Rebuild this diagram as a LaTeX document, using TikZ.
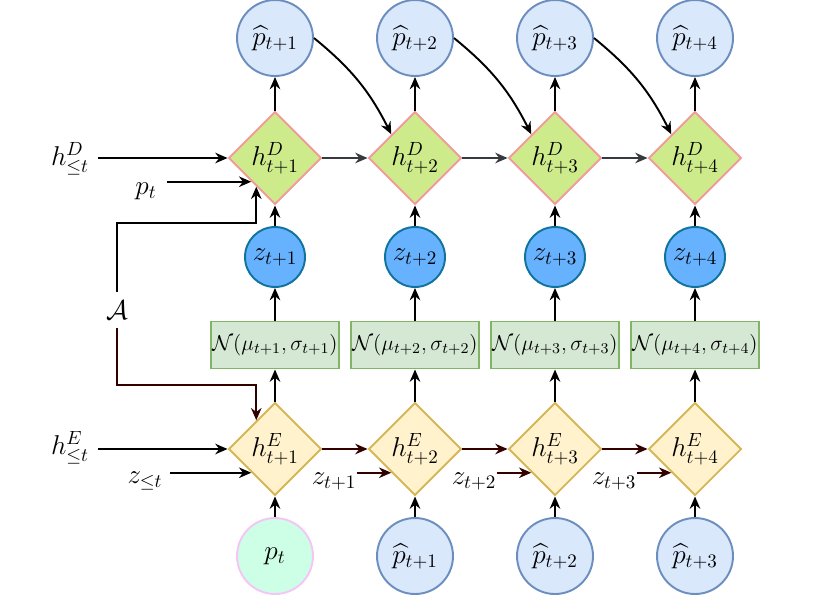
\RequirePackage{fix-cm}
\documentclass[tikz,border=0pt]{standalone}
\usepackage{amsmath,amssymb}
\usetikzlibrary{arrows.meta,shapes.geometric}
\definecolor{predfill}{HTML}{DAE8FC}
\definecolor{preddraw}{HTML}{6C8EBF}
\definecolor{decfill}{HTML}{CDEB8B}
\definecolor{decdraw}{HTML}{F19C99}
\definecolor{zfill}{HTML}{66B2FF}
\definecolor{zdraw}{HTML}{10739E}
\definecolor{normfill}{HTML}{D5E8D4}
\definecolor{normdraw}{HTML}{82B366}
\definecolor{encfill}{HTML}{FFF2CC}
\definecolor{encdraw}{HTML}{D6B656}
\definecolor{ptfill}{HTML}{CCFFE6}
\definecolor{ptdraw}{HTML}{F5C6F5}
\definecolor{darkred}{HTML}{330000}
\definecolor{dgray}{HTML}{36393D}

\begin{document}
\begin{tikzpicture}[x=0.02cm,y=-0.02cm,
  every node/.style={font=\fontsize{15.5}{18}\selectfont},
  predcirc/.style={circle,draw=preddraw,fill=predfill,line width=1.1pt,minimum size=1.52cm,inner sep=0pt},
  inpcirc/.style={predcirc,draw=ptdraw,fill=ptfill},
  latcirc/.style={circle,draw=zdraw,fill=zfill,line width=1.1pt,minimum size=1.2cm,inner sep=0pt},
  decdiam/.style={diamond,aspect=1,draw=decdraw,fill=decfill,line width=1.1pt,minimum width=1.86cm,minimum height=1.86cm,inner sep=0pt},
  encdiam/.style={decdiam,draw=encdraw,fill=encfill},
  normbox/.style={rectangle,draw=normdraw,fill=normfill,line width=1.1pt,minimum width=2.56cm,minimum height=0.94cm,inner sep=0pt,font=\fontsize{12.2}{14}\selectfont},
  lbl/.style={inner sep=1pt},
  arr/.style={-{Stealth[length=7pt,width=6pt]},line width=1.1pt},
  grayarr/.style={arr,dgray},
  redarr/.style={arr,darkred}]
\useasboundingbox (0,0) rectangle (830,599);

% columns t+1 ... t+4
\foreach \i in {1,...,4}{
  \pgfmathsetmacro\x{135+140*\i}
  \pgfmathtruncatemacro\j{\i-1}
  \node[predcirc] (p\i) at (\x,38) {$\widehat{p}_{t+\i}$};
  \node[decdiam] (hD\i) at (\x,158) {$h^D_{t+\i}$};
  \node[latcirc] (z\i) at (\x,257) {$z_{t+\i}$};
  \node[normbox] (n\i) at (\x,345) {$\mathcal{N}(\mu_{t+\i},\sigma_{t+\i})$};
  \node[encdiam] (hE\i) at (\x,449) {$h^E_{t+\i}$};
  \ifnum\i=1
    \node[inpcirc] (b\i) at (\x,556) {$p_t$};
  \else
    \node[predcirc] (b\i) at (\x,556) {$\widehat{p}_{t+\j}$};
  \fi
  \draw[arr] (hD\i) -- (p\i);
  \draw[arr] (z\i) -- (hD\i);
  \draw[arr] (n\i) -- (z\i);
  \draw[arr] (hE\i) -- (n\i);
  \draw[arr] (b\i) -- (hE\i);
}

% links between time steps
\foreach \i in {1,2,3}{
  \pgfmathsetmacro\x{194+140*\i}
  \pgfmathtruncatemacro\j{\i+1}
  \draw[grayarr] (hD\i) -- (hD\j);
  \draw[redarr] (hE\i) -- (hE\j);
  \draw[arr] (p\i.east) to[bend left=12] (hD\j.north west);
  \node[lbl,inner sep=0pt] (zl\i) at (\x,481) {$z_{t+\i}$};
  \draw[redarr] (zl\i.east |- hE\j.south west) -- (hE\j.south west);
}

% inputs on the left
\node[lbl] (hDin) at (70,159) {$h^D_{\leq t}$};
\node[lbl] (pin) at (146,191) {$p_t$};
\node[lbl] (hEin) at (70,448) {$h^E_{\leq t}$};
\node[lbl] (zin) at (145,481) {$z_{\leq t}$};
\node[lbl,minimum height=0.72cm,inner sep=0pt] (A) at (117,310) {$\mathcal{A}$};
\coordinate (inD) at ([shift={(5,5)}]hD1.south west);
\coordinate (inE) at ([shift={(5,-5)}]hE1.north west);

\draw[arr] ([xshift=4pt]hDin.east |- hD1.west) -- (hD1.west);
\draw[arr] ([xshift=5pt]pin.east |- hD1.south west) -- (hD1.south west);
\draw[arr] ([xshift=4pt]hEin.east |- hE1.west) -- (hE1.west);
\draw[arr] ([xshift=3pt]zin.east |- hE1.south west) -- (hE1.south west);
\draw[arr] (A.north) -- ++(0,-69) -| (inD);
\draw[redarr] (A.south) -- ++(0,57) -| (inE);
\end{tikzpicture}
\end{document}
